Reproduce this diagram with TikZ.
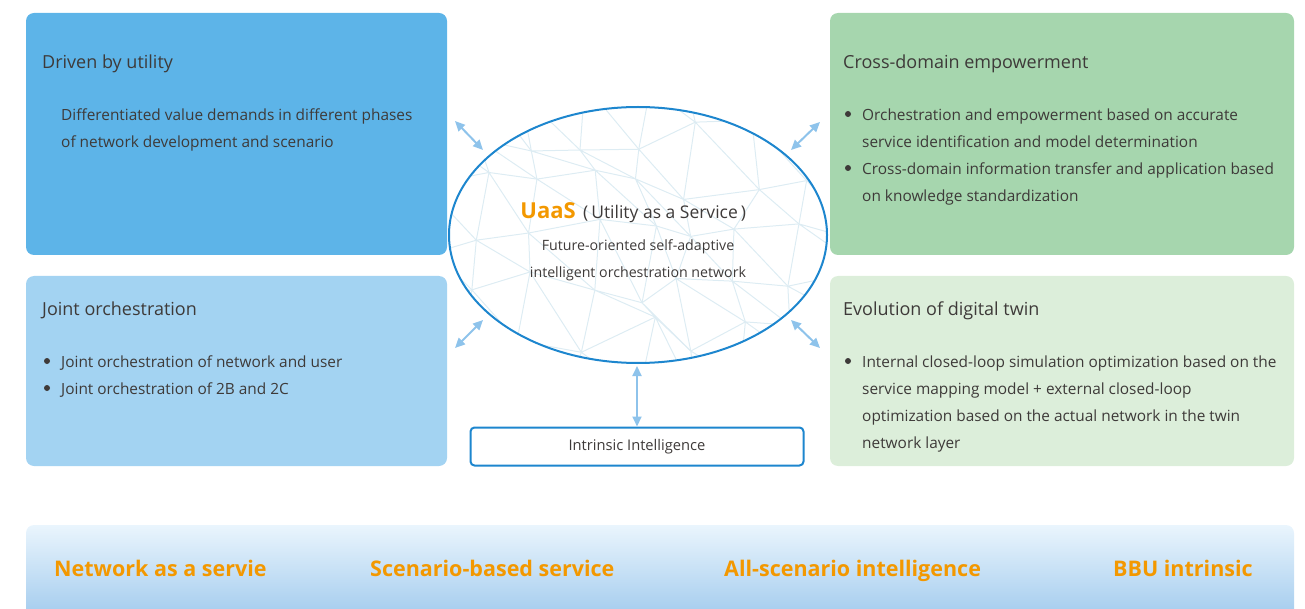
\documentclass[tikz,border=0pt]{standalone}
\usepackage{fontspec}
\setmainfont{Open Sans}
\usetikzlibrary{shapes,calc,positioning,arrows.meta}

\definecolor{blueA}{HTML}{5DB4E8}
\definecolor{blueB}{HTML}{A3D3F2}
\definecolor{greenA}{HTML}{A6D6AE}
\definecolor{greenB}{HTML}{DCEEDA}
\definecolor{ink}{HTML}{3E3A39}
\definecolor{uaasorange}{HTML}{F39800}
\definecolor{ring}{HTML}{1D86CE}
\definecolor{dart}{HTML}{8EC3EB}
\definecolor{meshc}{HTML}{DDECF3}
\definecolor{bandtop}{HTML}{EAF5FD}
\definecolor{bandbot}{HTML}{A9CFEF}

\tikzset{
  panel/.style={rounded corners=8pt},
  head/.style={text=ink, inner sep=0, font=\fontsize{18}{20}\selectfont},
  body/.style={text=ink, inner sep=0, align=left, font=\fontsize{15.4}{27}\selectfont},
  dot/.style={circle, fill=ink, inner sep=0, minimum size=6pt},
  twoway/.style={{Triangle[length=10pt,width=9pt]}-{Triangle[length=10pt,width=9pt]}, dart, line width=2pt},
  mesh/.style={meshc, line width=1pt},
  band/.style={text=uaasorange, inner sep=0, font=\fontsize{21.5}{24}\selectfont\bfseries}
}

\begin{document}
\begin{tikzpicture}[x=1pt,y=1pt]
\useasboundingbox (0,0) rectangle (1305,-609);

% four panels
\fill[panel, blueA] (26,-13) rectangle (447,-255);
\fill[panel, blueB] (26,-276) rectangle (447,-466);
\fill[panel, greenA] (830,-13) rectangle (1294,-255);
\fill[panel, greenB] (830,-276) rectangle (1294,-466);

\node[head, anchor=west] (t1) at (42,-63.5) {Driven by utility};
\node[body, anchor=north west] (d1) at (61,-108.5) {Differentiated value demands in different phases\\of network development and scenario};

\node[head, anchor=west] (t2) at (42,-310.5) {Joint orchestration};
\node[dot] (b21) at (47,-361) {};
\node[dot] (b22) at (47,-388) {};
\node[body, anchor=north west] (d2) at (61,-355.5) {Joint orchestration of network and user\\Joint orchestration of 2B and 2C};

\node[head, anchor=west] (t3) at (843,-63.5) {Cross-domain empowerment};
\node[dot] (b31) at (848,-114) {};
\node[dot] (b32) at (848,-168) {};
\node[body, anchor=north west] (d3) at (862,-108.5) {Orchestration and empowerment based on accurate\\service identification and model determination\\Cross-domain information transfer and application based\\on knowledge standardization};

\node[head, anchor=west] (t4) at (843,-310.5) {Evolution of digital twin};
\node[dot] (b41) at (848,-361) {};
\node[body, anchor=north west] (d4) at (862,-355.5) {Internal closed-loop simulation optimization based on the\\service mapping model + external closed-loop\\optimization based on the actual network in the twin\\network layer};

% the network mesh inside the ring
\begin{scope}
\clip (638,-235) ellipse [x radius=189pt, y radius=128pt];
\pgfmathsetseed{7}
\foreach \i in {0,...,8}{
  \foreach \j in {0,...,6}{
    \pgfmathsetmacro\mx{420+\i*55+rand*20}
    \pgfmathsetmacro\my{85+\j*50+rand*18}
    \coordinate (m\i\j) at (\mx,-\my);
  }
}
\foreach \i in {0,...,7}{
  \pgfmathtruncatemacro\k{\i+1}
  \foreach \j in {0,...,5}{
    \pgfmathtruncatemacro\l{\j+1}
    \draw[mesh] (m\i\j) -- (m\k\j) (m\i\j) -- (m\i\l) (m\i\j) -- (m\k\l);
  }
}
\end{scope}

\node[ellipse, draw=ring, line width=2pt, minimum width=378pt, minimum height=256pt] (core) at (638,-235) {};
\node[inner sep=0, anchor=base east] (uaas) at (576,-219) {\fontsize{22}{24}\selectfont\bfseries\color{uaasorange}UaaS};
\node[inner sep=0, anchor=base west, text=ink, font=\fontsize{17.5}{20}\selectfont] (uaasfull) at (583,-219) {(\,Utility as a Service\,)};
\node[inner sep=0, text=ink, align=center, font=\fontsize{14.2}{27}\selectfont] (vision) at (638,-260) {Future-oriented self-adaptive\\intelligent orchestration network};

\node[draw=ring, line width=2pt, rounded corners=4pt, minimum width=333pt, minimum height=38pt, text=ink, font=\fontsize{14.7}{16}\selectfont] (intr) at (637,-446.5) {Intrinsic Intelligence};

% arrows
\coordinate (a1) at (455,-121); \coordinate (c1) at (483,-150);
\coordinate (a2) at (455,-348); \coordinate (c2) at (483,-320);
\coordinate (a3) at (820,-122); \coordinate (c3) at (791,-150);
\coordinate (a4) at (820,-348); \coordinate (c4) at (791,-320);
\coordinate (c5) at (637,-366);
\draw[twoway] (a1) -- (c1);
\draw[twoway] (a2) -- (c2);
\draw[twoway] (a3) -- (c3);
\draw[twoway] (a4) -- (c4);
\draw[twoway] (c5) -- (intr.north);

% bottom band
\shade[top color=bandtop, bottom color=bandbot] (26,-609) [rounded corners=8pt]-- (26,-525) -- (1294,-525) [sharp corners]-- (1294,-609) -- cycle;
\node[band, anchor=base west] (n1) at (54,-576) {Network as a servie};
\node[band, anchor=base west] (n2) at (370,-576) {Scenario-based service};
\node[band, anchor=base west] (n3) at (724,-576) {All-scenario intelligence};
\node[band, anchor=base west] (n4) at (1113,-576) {BBU intrinsic};

\end{tikzpicture}
\end{document}
